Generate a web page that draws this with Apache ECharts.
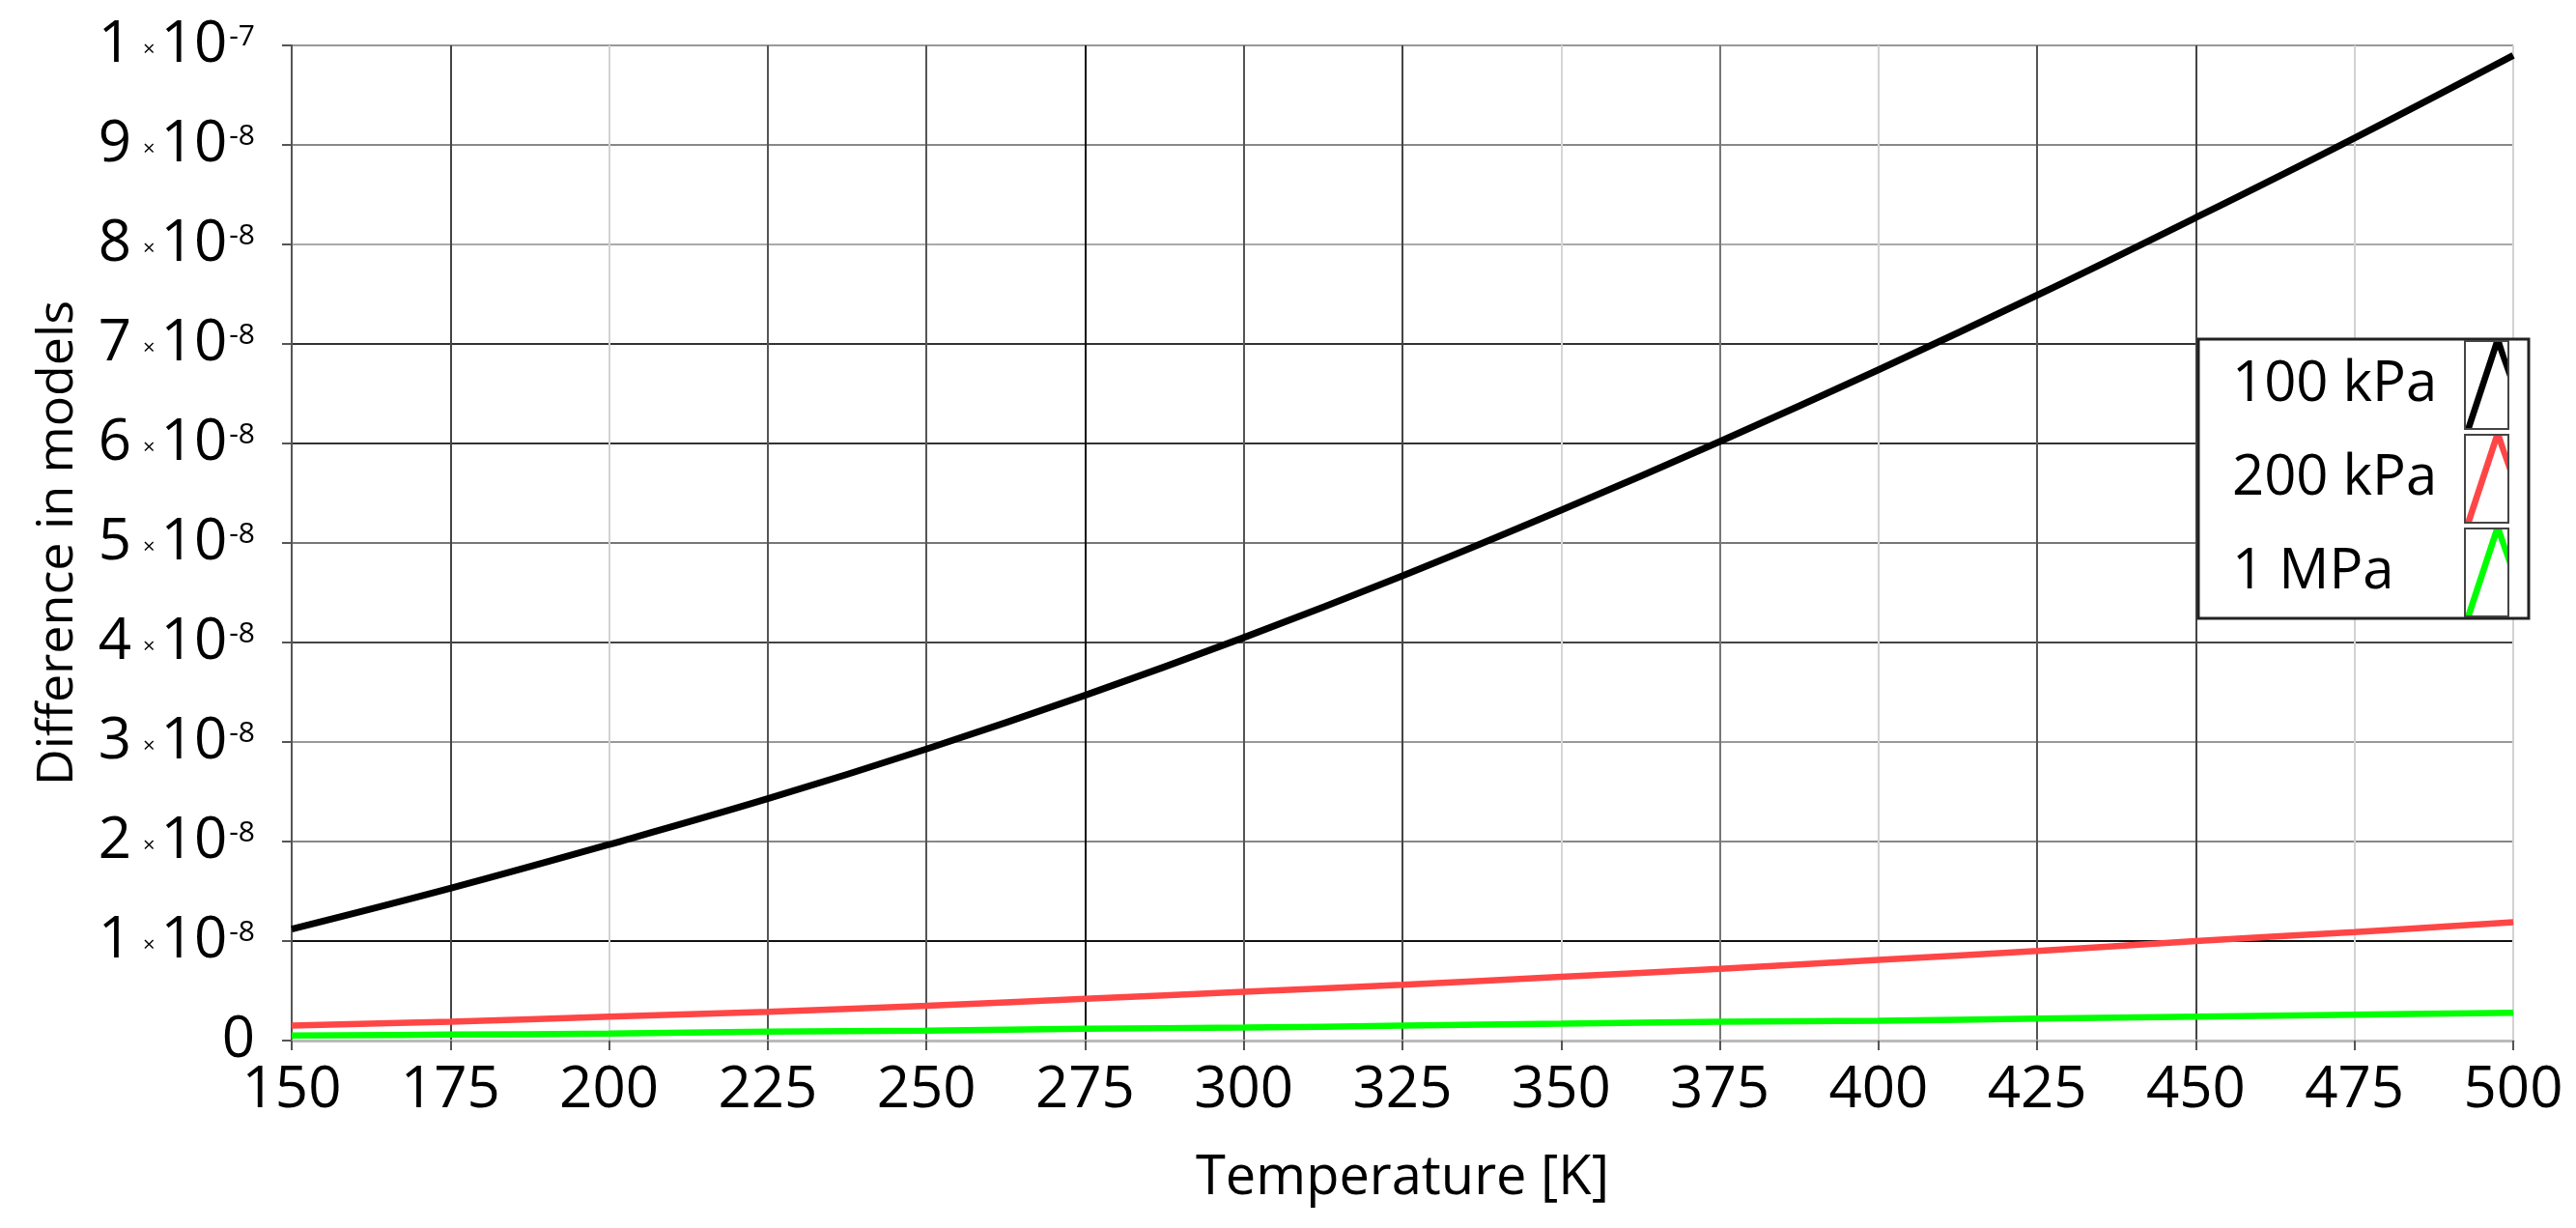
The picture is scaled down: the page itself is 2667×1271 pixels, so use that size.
<!DOCTYPE html>
<html>
<head>
<meta charset="utf-8">
<script src="https://cdn.jsdelivr.net/npm/echarts@6/dist/echarts.min.js"></script>
<style>
html,body{margin:0;padding:0;background:#fff;}
#chart{width:2667px;height:1271px;}
</style>
</head>
<body>
<div id="chart"></div>
<script>
// ---- data ----
const temperatures = [150,175,200,225,250,275,300,325,350,375,400,425,450,475,500];
const seriesNames = ['100 kPa','200 kPa','1 MPa'];
const diff100kPa = [1.12e-8,1.53e-8,1.97e-8,2.43e-8,2.93e-8,3.47e-8,4.05e-8,4.67e-8,5.33e-8,6.02e-8,6.74e-8,7.49e-8,8.27e-8,9.07e-8,9.90e-8];
const diff200kPa = [0.15e-8,0.19e-8,0.24e-8,0.29e-8,0.35e-8,0.42e-8,0.49e-8,0.56e-8,0.64e-8,0.72e-8,0.81e-8,0.90e-8,1.00e-8,1.09e-8,1.19e-8];
const diff1MPa   = [0.05e-8,0.06e-8,0.07e-8,0.09e-8,0.10e-8,0.12e-8,0.13e-8,0.15e-8,0.17e-8,0.19e-8,0.20e-8,0.22e-8,0.24e-8,0.26e-8,0.28e-8];
const xTitle = 'Temperature [K]';
const yTitle = 'Difference in models';

const FONT = '"Open Sans", "Noto Sans", sans-serif';
const colors = ['#000000','#ff4646','#00ff00'];

function zip(xs, ys){ return xs.map((x,i)=>[x, ys[i]]); }

function sciLabel(v){
  if (Math.abs(v) < 1e-20) return '{a|0}';
  const e = Math.floor(Math.log10(v) + 1e-9);
  const m = Math.round(v / Math.pow(10, e));
  return '{a|' + m + '}{x|×}{a|10}{s|' + e + '}';
}

// legend geometry
const LEG_LEFT = 2276, LEG_TOP = 351, LEG_PAD = [2, 21, 2, 35];
const ITEM_W = 45, ITEM_H = 91, ITEM_GAP = 6, LEG_TEXT_W = 236;
const iconPath = 'path://M0,91 L30,0 L38,0 L45,22 L45,40 L34,9 L7,91 Z';

const iconBoxes = seriesNames.map((n,i)=>({
  type:'rect',
  shape:{
    x: LEG_LEFT + LEG_PAD[3] + LEG_TEXT_W + 5,
    y: LEG_TOP + LEG_PAD[0] + i*(ITEM_H+ITEM_GAP),
    width: ITEM_W, height: ITEM_H
  },
  style:{fill:'none', stroke:'#444', lineWidth:2},
  z: 200
}));

const chart = echarts.init(document.getElementById('chart'), null, {renderer:'canvas'});
chart.setOption({
  backgroundColor:'#ffffff',
  animation:false,
  grid:{left:302, right:65, top:47, bottom:194, containLabel:false},
  xAxis:{
    type:'value', min:150, max:500, interval:25,
    name: xTitle, nameLocation:'middle', nameGap:115,
    nameTextStyle:{fontFamily:FONT, fontSize:56, color:'#000'},
    axisLine:{show:true, onZero:false, lineStyle:{color:'#bbbbbb', width:3}},
    axisTick:{show:true, inside:false, length:10, lineStyle:{color:'#555', width:2}},
    axisLabel:{fontFamily:FONT, fontSize:60, color:'#000', margin:22},
    splitLine:{show:true, lineStyle:{width:2, color:[
      '#444','#444','#d2d2d2','#555','#555','#111','#555','#444','#d6d6d6','#777','#d2d2d2','#555','#444','#d2d2d2','#d2d2d2']}}
  },
  yAxis:{
    type:'value', min:0, max:1e-7, interval:1e-8,
    name: yTitle, nameLocation:'middle', nameGap:216,
    nameTextStyle:{fontFamily:FONT, fontSize:52, color:'#000'},
    axisLine:{show:true, onZero:false, lineStyle:{color:'#555', width:2}},
    axisTick:{show:true, inside:false, length:10, lineStyle:{color:'#555', width:2}},
    axisLabel:{
      margin:38, color:'#000', fontFamily:FONT,
      formatter: sciLabel,
      rich:{
        a:{fontFamily:FONT, fontSize:60, lineHeight:60, color:'#000'},
        x:{fontFamily:FONT, fontSize:22, lineHeight:22, color:'#000', verticalAlign:'bottom', padding:[0,6,14,12]},
        s:{fontFamily:FONT, fontSize:30, lineHeight:30, color:'#000', verticalAlign:'top', padding:[6,0,0,2]}
      }
    },
    splitLine:{show:true, lineStyle:{width:2, color:[
      '#bbbbbb','#111','#888','#999','#444','#777','#333','#333','#aaa','#888','#999']}}
  },
  legend:{
    show:true, orient:'vertical', left:LEG_LEFT, top:LEG_TOP,
    padding:LEG_PAD, itemGap:ITEM_GAP, itemWidth:ITEM_W, itemHeight:ITEM_H,
    align:'right', backgroundColor:'#fff', borderColor:'#222', borderWidth:3,
    icon: iconPath, itemStyle:{borderWidth:0},
    formatter: function(name){ return '{t|' + name + '}'; },
    textStyle:{fontFamily:FONT, fontSize:58, color:'#000',
      rich:{t:{fontFamily:FONT, fontSize:58, color:'#000', width:LEG_TEXT_W, align:'left'}}},
    data: seriesNames
  },
  graphic: iconBoxes,
  series:[
    {name:seriesNames[0], type:'line', data:zip(temperatures, diff100kPa), showSymbol:false, smooth:0.4, color:colors[0], lineStyle:{width:7, color:colors[0]}, z:5},
    {name:seriesNames[1], type:'line', data:zip(temperatures, diff200kPa), showSymbol:false, smooth:0.4, color:colors[1], lineStyle:{width:6.5, color:colors[1]}, z:4},
    {name:seriesNames[2], type:'line', data:zip(temperatures, diff1MPa), showSymbol:false, smooth:0.4, color:colors[2], lineStyle:{width:6.5, color:colors[2]}, z:3}
  ]
});
</script>
</body>
</html>
